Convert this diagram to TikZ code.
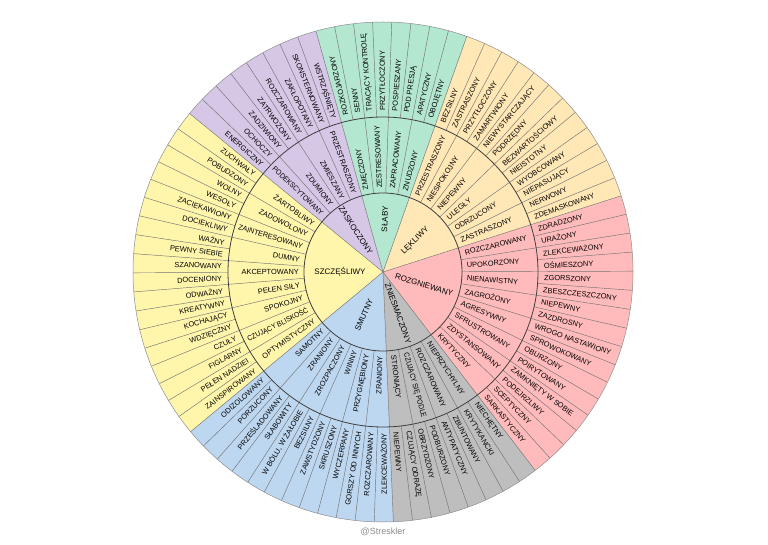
\documentclass[tikz,border=0pt]{standalone}
\usepackage{fontspec}
\usepackage{graphicx}
\setmainfont{Liberation Sans}
\usetikzlibrary{positioning}
\definecolor{joyyellow}{RGB}{255,246,172}
\definecolor{surprisepurple}{RGB}{214,199,231}
\definecolor{weakgreen}{RGB}{180,231,208}
\definecolor{fearpeach}{RGB}{255,231,182}
\definecolor{angerpink}{RGB}{255,187,187}
\definecolor{disgustgray}{RGB}{190,190,190}
\definecolor{sadblue}{RGB}{190,215,240}
\newcommand{\rcore}{79}
\newcommand{\rmid}{155}
\newcommand{\rout}{250}
\newcommand{\startang}{307.5}
\newcommand{\slice}{4.390244}
\newlength{\wordwd}
\newcommand{\fitword}[2]{\settowidth{\wordwd}{#1}\ifdim\wordwd>#2\relax\resizebox{#2}{\height}{#1}\else#1\fi}
\tikzset{
 spoke/.style={draw=black!55, line width=0.45pt},
 ring/.style={draw=black!75, line width=0.8pt},
 rim/.style={draw=black!45, line width=0.5pt},
 wordlabel/.style={
 font=\fontsize{7.4}{8}\selectfont,
 text=black,
 inner sep=0pt
 },
 corelabel/.style={
 font=\fontsize{8}{9}\selectfont,
 text=black,
 inner sep=0pt
 }
}

\begin{document}
\begin{tikzpicture}[x=1pt,y=1pt]
 \useasboundingbox (0,0) rectangle (768,544);
 \fill[white] (0,0) rectangle (768,544);
 \begin{scope}[shift={(383,272)}]
 % sectors of the core feelings
 \foreach \col/\from/\to in {angerpink/0/16, fearpeach/16/28, weakgreen/28/36,
 surprisepurple/36/44, joyyellow/44/62, sadblue/62/74, disgustgray/74/82}
 \fill[\col] (0,0) -- ({\startang+\from*\slice}:\rout)
 arc[start angle={\startang+\from*\slice}, end angle={\startang+\to*\slice}, radius=\rout] -- cycle;
 % spokes
 \foreach \k in {0,...,81}
 \draw[spoke] ({\startang+\k*\slice}:\rmid) -- ({\startang+\k*\slice}:\rout);
 \foreach \k in {0,2,...,80}
 \draw[spoke] ({\startang+\k*\slice}:\rcore) -- ({\startang+\k*\slice}:\rmid);
 \foreach \k in {0,16,28,36,44,62,74}
 \draw[spoke] (0,0) -- ({\startang+\k*\slice}:\rcore);
 \draw[ring] (0,0) circle[radius=\rcore];
 \draw[ring] (0,0) circle[radius=\rmid];
 \draw[rim] (0,0) circle[radius=\rout];
 % outer ring
 \foreach \word [count=\k from 0] in {SARKASTYCZNY, SCEPTYCZNY, PODEJRZLIWY, ZAMKNIĘTY W SOBIE,
 POIRYTOWANY, OBURZONY, SPROWOKOWANY, WROGO NASTAWIONY, ZAZDROSNY, NIEPEWNY,
 ZBESZCZESZCZONY, ZGORSZONY, OŚMIESZONY, ZLEKCEWAŻONY, URAŻONY, ZDRADZONY,
 ZDEMASKOWANY, NERWOWY, NIEPASUJĄCY, WYOBCOWANY, NIEISTOTNY, BEZWARTOŚCIOWY,
 PODRZĘDNY, NIEWYSTARCZAJĄCY, ZAMARTWIONY, PRZYTŁOCZONY, ZASTRASZONY, BEZSILNY,
 OBOJĘTNY, APATYCZNY, POD PRESJĄ, POSPIESZANY, PRZYTŁOCZONY, TRACĄCY KONTROLĘ,
 SENNY, ROZKOJARZONY,
 WSTRZĄŚNIĘTY, SKONSTERNOWANY, ZAKŁOPOTANY, ROZCZAROWANY, ZATRWOŻONY, ZADZIWIONY,
 OCHOCZY, ENERGICZNY,
 ZUCHWAŁY, POBUDZONY, WOLNY, WESOŁY, ZACIEKAWIONY, DOCIEKLIWY, WAŻNY, PEWNY SIEBIE,
 SZANOWANY, DOCENIONY, ODWAŻNY, KREATYWNY, KOCHAJĄCY, WDZIĘCZNY, CZUŁY, FIGLARNY,
 PEŁEN NADZIEI, ZAINSPIROWANY,
 ODIZOLOWANY, PORZUCONY, PRZEŚLADOWANY, SŁABOWITY, {W BÓLU, W ŻAŁOBIE}, BEZSILNY,
 ZAWSTYDZONY, SKRUSZONY, WYCZERPANY, GORSZY OD INNYCH, ROZCZAROWANY, ZLEKCEWAŻONY,
 NIEPEWNY, CZUJĄCY ODRAZĘ, OBRZYDZONY, PODBURZONY, ANTYPATYCZNY, ZBUNTOWANY,
 KRYTYKANCKI, NIECHĘTNY} {
 \pgfmathsetmacro{\ang}{\startang+(\k+0.5)*\slice}
 \ifnum\k<36 \def\anch{west}\let\rot\ang
 \else\ifnum\k<74 \def\anch{east}\pgfmathsetmacro{\rot}{\ang+180}
 \else \def\anch{west}\let\rot\ang\fi\fi
 \node[wordlabel, anchor=\anch, rotate=\rot] (out-\k) at (\ang:\rmid+6) {\fitword{\word}{86pt}};
 }
 % middle ring
 \foreach \word [count=\k from 0] in {KRYTYCZNY, ZDYSTANSOWANY, SFRUSTROWANY, AGRESYWNY,
 ZAGROŻONY, NIENAWISTNY, UPOKORZONY, ROZCZAROWANY,
 ZASTRASZONY, ODRZUCONY, ULEGŁY, NIEPEWNY, NIESPOKOJNY, PRZESTRASZONY,
 ZNUDZONY, ZAPRACOWANY, ZESTRESOWANY, ZMĘCZONY,
 PRZESTRASZONY, ZMIESZANY, ZDUMIONY, PODEKSCYTOWANY,
 ŻARTOBLIWY, ZADOWOLONY, ZAINTERESOWANY, DUMNY, AKCEPTOWANY, PEŁEN SIŁY, SPOKOJNY,
 CZUJĄCY BLISKOŚĆ, OPTYMISTYCZNY,
 SAMOTNY, ZRANIONY, ZROZPACZONY, WINNY, PRZYGNĘBIONY, ZRANIONY,
 STRONIĄCY, CZUJĄCY SIĘ PODLE, ROZCZAROWANY, NIEPRZYCHYLNY} {
 \pgfmathsetmacro{\ang}{\startang+(2*\k+1)*\slice}
 \ifnum\k<18 \def\anch{west}\let\rot\ang
 \else\ifnum\k<37 \def\anch{east}\pgfmathsetmacro{\rot}{\ang+180}
 \else \def\anch{west}\let\rot\ang\fi\fi
 \node[wordlabel, anchor=\anch, rotate=\rot] (mid-\k) at (\ang:\rcore+5) {\fitword{\word}{67pt}};
 }
 % core feelings
 \foreach \word/\from/\to/\turn/\rad in {ROZGNIEWANY/0/16/0/43, LĘKLIWY/16/28/0/45,
 SŁABY/28/36/0/53, ZASKOCZONY/36/44/180/50, SZCZĘŚLIWY/44/62/180/43,
 SMUTNY/62/74/180/47, ZNIESMACZONY/74/82/0/44} {
 \pgfmathsetmacro{\ang}{\startang+(\from+\to)/2*\slice}
 \node[corelabel, rotate=\ang+\turn] (core-\from) at (\ang:\rad) {\word};
 }
 \end{scope}
 \node[font=\fontsize{9}{10}\selectfont, text=black!45] (mark) at (383,12) {@Streskler};
\end{tikzpicture}
\end{document}
